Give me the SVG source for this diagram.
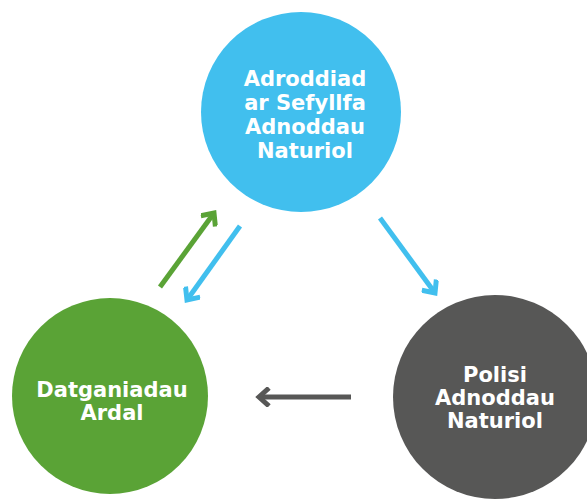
<svg xmlns="http://www.w3.org/2000/svg" width="587" height="500" viewBox="0 0 587 500">
<style>
.lbl{font-family:"DejaVu Sans","Liberation Sans",sans-serif;font-weight:bold;font-size:21px;fill:#ffffff;text-anchor:middle}
.conn{fill:none;stroke-width:5}
</style>
<defs>
<marker id="hb" viewBox="0 0 20 20" refX="14" refY="10" markerWidth="20" markerHeight="20" markerUnits="userSpaceOnUse" orient="auto"><path d="M4,1 L14,10 L4,19" fill="none" stroke="#41BFEE" stroke-width="5"/></marker>
<marker id="hg" viewBox="0 0 20 20" refX="14" refY="10" markerWidth="20" markerHeight="20" markerUnits="userSpaceOnUse" orient="auto"><path d="M4,1 L14,10 L4,19" fill="none" stroke="#5AA336" stroke-width="5"/></marker>
<marker id="hk" viewBox="0 0 20 20" refX="14" refY="10" markerWidth="20" markerHeight="20" markerUnits="userSpaceOnUse" orient="auto"><path d="M4,1 L14,10 L4,19" fill="none" stroke="#575756" stroke-width="5"/></marker>
</defs>
<g id="node-report">
<circle cx="301" cy="112" r="100" fill="#41BFEE"/>
<text class="lbl" x="305" y="86">Adroddiad</text>
<text class="lbl" x="305" y="110">ar Sefyllfa</text>
<text class="lbl" x="305" y="134">Adnoddau</text>
<text class="lbl" x="305" y="158">Naturiol</text>
</g>
<g id="node-area">
<circle cx="110" cy="396" r="98" fill="#5AA336"/>
<text class="lbl" x="112" y="397">Datganiadau</text>
<text class="lbl" x="112" y="420">Ardal</text>
</g>
<g id="node-policy">
<circle cx="495" cy="397" r="102" fill="#575756"/>
<text class="lbl" x="495" y="382">Polisi</text>
<text class="lbl" x="495" y="405">Adnoddau</text>
<text class="lbl" x="495" y="428">Naturiol</text>
</g>
<g id="connectors">
<line class="conn" x1="160" y1="287" x2="214" y2="213" stroke="#5AA336" marker-end="url(#hg)"/>
<line class="conn" x1="240" y1="226" x2="187" y2="300" stroke="#41BFEE" marker-end="url(#hb)"/>
<line class="conn" x1="380" y1="218" x2="435" y2="293" stroke="#41BFEE" marker-end="url(#hb)"/>
<line class="conn" x1="351" y1="397" x2="259" y2="397" stroke="#575756" marker-end="url(#hk)"/>
</g>
</svg>
